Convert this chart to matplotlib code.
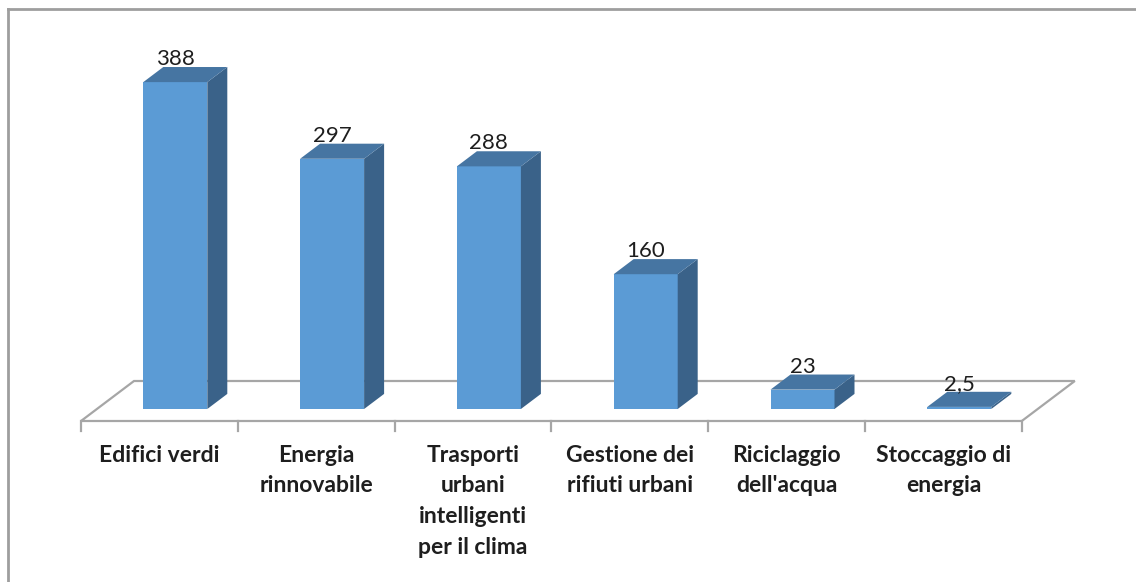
import matplotlib
matplotlib.use("Agg")
import matplotlib.pyplot as plt
import numpy as np
from matplotlib.patches import Polygon
from matplotlib.lines import Line2D

categories = ["Edifici verdi", "Energia\nrinnovabile", "Trasporti\nurbani\nintelligenti\nper il clima",
              "Gestione dei\nrifiuti urbani", "Riciclaggio\ndell'acqua", "Stoccaggio di\nenergia"]
values = [388, 297, 288, 160, 23, 2.5]
value_labels = ["388", "297", "288", "160", "23", "2,5"]

front_col = "#5B9BD5"
top_col = "#4675A2"
side_col = "#3A6289"
floor_col = "#A6A6A6"
text_col = "#1E1E1E"

W, H = 1136, 582
fig = plt.figure(figsize=(W / 100, H / 100), dpi=100)
ax = fig.add_axes([0, 0, 1, 1])

# pixel mapping: category step 156.8px, front floor from x=81; value 0 of bar plane at y=409
px_per_cat = 156.8
px_per_val = 0.8425
ax.set_xlim(-0.5 - 81 / px_per_cat, -0.5 + (W - 81) / px_per_cat)
ax.set_ylim(-(H - 409) / px_per_val, 409 / px_per_val)
ax.axis("off")

# oblique "depth" direction of the floor, in data units
DX = 53 / px_per_cat
DY = 40 / px_per_val
V0 = -0.3 * DY          # floor front edge, bars stand at depth 0.3
d_front, d_back = 0.3, 0.3 + 20 / 53
bw = 64 / px_per_cat

def P(x, v, d):
    return (x + d * DX, v + V0 + d * DY)

n = len(values)
x = np.arange(n)

# floor
floor = [P(-0.5, 0, 0), P(-0.5, 0, 1), P(n - 0.5, 0, 1), P(n - 0.5, 0, 0)]
ax.add_patch(Polygon(floor, closed=True, fill=False, edgecolor=floor_col, lw=1.6, zorder=1))
tick_len = 10 / px_per_val
for i in range(n + 1):
    ax.plot([i - 0.5, i - 0.5], [V0, V0 - tick_len], color=floor_col, lw=1.6, zorder=1)

# bars: front face plus side and top for the 3d look
xf = x + d_front * DX
ax.bar(xf, values, width=bw, bottom=0, color=front_col, edgecolor="none", zorder=3)
for i, v in enumerate(values):
    l, r = xf[i] - bw / 2, xf[i] + bw / 2
    ddx = (d_back - d_front) * DX
    ddy = (d_back - d_front) * DY
    side = [(r, 0), (r + ddx, ddy), (r + ddx, v + ddy), (r, v)]
    top = [(l, v), (r, v), (r + ddx, v + ddy), (l + ddx, v + ddy)]
    ax.add_patch(Polygon(side, closed=True, facecolor=side_col, edgecolor="none", zorder=3))
    ax.add_patch(Polygon(top, closed=True, facecolor=top_col, edgecolor="none", zorder=4))
    ax.annotate(value_labels[i], (xf[i], v + ddy), xytext=(0, 2), textcoords="offset pixels",
                ha="center", va="baseline", fontsize=16, family="Lato",
                color=text_col, zorder=5)

# category labels, one line at a time (baselines 30px apart)
for i, c in enumerate(categories):
    for k, line in enumerate(c.split("\n")):
        ax.annotate(line, (x[i], V0), xytext=(0, -(462 - 421) - 30.5 * k), textcoords="offset pixels",
                    ha="center", va="baseline", fontsize=16.5, family="Lato", fontweight="bold",
                    color=text_col)

# chart frame (top and left edges visible)
fig.add_artist(Line2D([8 / W, 8 / W], [0, 1 - 9 / H], color="#9E9E9E", lw=2))
fig.add_artist(Line2D([8 / W, 1], [1 - 9 / H, 1 - 9 / H], color="#9E9E9E", lw=2))

fig.savefig("out.png", dpi=100)
